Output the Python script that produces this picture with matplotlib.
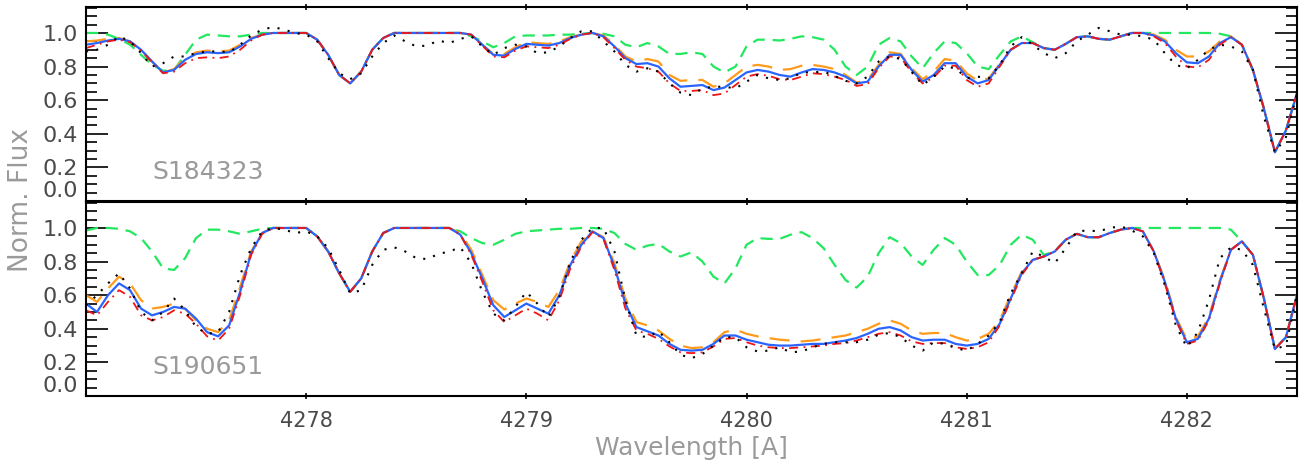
import numpy as np
import matplotlib
matplotlib.use('Agg')
import matplotlib.pyplot as plt

# wavelength grid, 0.05 A step
wave = np.linspace(4277.0, 4282.5, 111)

# ---- S184323 (top panel) ----
top_obs = [0.89, 0.90, 0.93, 0.98, 0.95, 0.88, 0.80, 0.82, 0.86, 0.86,
           0.88, 0.89, 0.89, 0.885, 0.93, 0.985, 1.02, 1.035, 1.02, 1.0,
           0.99, 0.95, 0.85, 0.76, 0.725, 0.76, 0.86, 0.94, 0.985, 0.95,
           0.92, 0.925, 0.955, 0.94, 0.965, 0.98, 0.92, 0.87, 0.91, 0.93,
           0.92, 0.88, 0.885, 0.92, 0.97, 1.01, 1.01, 0.95, 0.89, 0.81,
           0.77, 0.79, 0.77, 0.70, 0.645, 0.63, 0.67, 0.68, 0.68, 0.67,
           0.71, 0.75, 0.73, 0.72, 0.73, 0.765, 0.765, 0.77, 0.745, 0.715,
           0.70, 0.74, 0.83, 0.86, 0.845, 0.77, 0.69, 0.74, 0.80, 0.79,
           0.73, 0.74, 0.73, 0.81, 0.92, 0.975, 0.93, 0.88, 0.85, 0.88,
           0.95, 0.99, 1.03, 1.01, 0.99, 0.99, 0.98, 0.96, 0.88, 0.81,
           0.79, 0.84, 0.90, 0.93, 0.92, 0.89, 0.78, 0.50, 0.29, 0.38, 0.64]
top_best = [0.93, 0.94, 0.955, 0.965, 0.95, 0.90, 0.83, 0.765, 0.78, 0.84,
            0.875, 0.885, 0.88, 0.885, 0.92, 0.965, 0.99, 1.0, 1.0, 1.0,
            1.0, 0.96, 0.87, 0.75, 0.70, 0.77, 0.90, 0.97, 1.0, 1.0,
            1.0, 1.0, 1.0, 1.0, 1.0, 0.99, 0.93, 0.87, 0.865, 0.905,
            0.935, 0.93, 0.925, 0.94, 0.97, 0.99, 1.0, 0.98, 0.92, 0.85,
            0.815, 0.82, 0.80, 0.73, 0.68, 0.685, 0.69, 0.66, 0.675, 0.72,
            0.765, 0.78, 0.77, 0.75, 0.74, 0.765, 0.785, 0.78, 0.765, 0.74,
            0.70, 0.71, 0.80, 0.87, 0.87, 0.78, 0.71, 0.75, 0.82, 0.82,
            0.74, 0.70, 0.72, 0.81, 0.90, 0.94, 0.94, 0.91, 0.90, 0.935,
            0.975, 0.98, 0.965, 0.96, 0.98, 1.0, 1.0, 0.985, 0.95, 0.88,
            0.825, 0.82, 0.86, 0.94, 0.975, 0.93, 0.78, 0.55, 0.29, 0.42, 0.64]
top_low = [0.95, 0.955, 0.965, 0.97, 0.95, 0.90, 0.83, 0.765, 0.785, 0.85,
           0.885, 0.895, 0.89, 0.895, 0.93, 0.97, 0.99, 1.0, 1.0, 1.0,
           1.0, 0.96, 0.87, 0.75, 0.70, 0.77, 0.90, 0.97, 1.0, 1.0,
           1.0, 1.0, 1.0, 1.0, 1.0, 0.99, 0.93, 0.875, 0.875, 0.915,
           0.945, 0.94, 0.935, 0.95, 0.975, 0.99, 1.0, 0.985, 0.93, 0.86,
           0.83, 0.845, 0.83, 0.75, 0.715, 0.72, 0.72, 0.68, 0.70, 0.75,
           0.80, 0.81, 0.80, 0.78, 0.785, 0.805, 0.81, 0.80, 0.785, 0.75,
           0.705, 0.72, 0.81, 0.885, 0.875, 0.79, 0.725, 0.77, 0.845, 0.835,
           0.76, 0.715, 0.73, 0.815, 0.90, 0.94, 0.94, 0.91, 0.90, 0.935,
           0.975, 0.98, 0.965, 0.96, 0.98, 1.0, 1.0, 0.99, 0.96, 0.90,
           0.86, 0.86, 0.89, 0.95, 0.98, 0.93, 0.78, 0.55, 0.29, 0.42, 0.64]
top_high = [0.91, 0.93, 0.95, 0.96, 0.945, 0.895, 0.825, 0.76, 0.77, 0.82,
            0.85, 0.855, 0.85, 0.86, 0.90, 0.955, 0.99, 1.0, 1.0, 1.0,
            1.0, 0.96, 0.87, 0.75, 0.70, 0.77, 0.90, 0.97, 1.0, 1.0,
            1.0, 1.0, 1.0, 1.0, 1.0, 0.99, 0.925, 0.86, 0.855, 0.895,
            0.92, 0.915, 0.91, 0.93, 0.965, 0.99, 1.0, 0.975, 0.91, 0.84,
            0.80, 0.79, 0.77, 0.70, 0.655, 0.655, 0.66, 0.63, 0.64, 0.69,
            0.74, 0.755, 0.745, 0.725, 0.72, 0.74, 0.76, 0.755, 0.74, 0.72,
            0.685, 0.695, 0.79, 0.86, 0.855, 0.765, 0.70, 0.735, 0.805, 0.805,
            0.72, 0.68, 0.70, 0.80, 0.90, 0.94, 0.94, 0.91, 0.90, 0.935,
            0.975, 0.98, 0.965, 0.96, 0.98, 1.0, 1.0, 0.98, 0.94, 0.86,
            0.80, 0.795, 0.84, 0.93, 0.975, 0.93, 0.78, 0.55, 0.29, 0.42, 0.64]
top_zero = [1.0, 1.0, 0.99, 0.965, 0.93, 0.87, 0.81, 0.775, 0.78, 0.87,
            0.96, 0.99, 0.985, 0.98, 0.98, 0.99, 1.0, 1.0, 1.0, 1.0,
            1.0, 0.96, 0.87, 0.75, 0.70, 0.77, 0.90, 0.97, 1.0, 1.0,
            1.0, 1.0, 1.0, 1.0, 1.0, 0.98, 0.95, 0.915, 0.94, 0.98,
            0.985, 0.985, 0.985, 0.99, 0.99, 0.995, 1.0, 0.995, 0.98, 0.93,
            0.915, 0.94, 0.92, 0.875, 0.875, 0.885, 0.875, 0.80, 0.765, 0.80,
            0.92, 0.96, 0.96, 0.955, 0.965, 0.98, 0.975, 0.96, 0.90, 0.80,
            0.75, 0.80, 0.93, 0.97, 0.95, 0.86, 0.79, 0.88, 0.95, 0.94,
            0.88, 0.80, 0.785, 0.87, 0.95, 0.98, 0.945, 0.91, 0.90, 0.935,
            0.975, 0.98, 0.965, 0.96, 0.98, 1.0, 1.0, 1.0, 1.0, 1.0,
            1.0, 1.0, 1.0, 0.995, 0.98, 0.93, 0.78, 0.55, 0.29, 0.42, 0.64]

# ---- S190651 (bottom panel) ----
bot_obs = [0.54, 0.60, 0.67, 0.73, 0.64, 0.50, 0.45, 0.50, 0.58, 0.51,
           0.41, 0.37, 0.38, 0.50, 0.72, 0.88, 0.98, 1.0, 0.99, 0.97,
           0.98, 0.95, 0.88, 0.75, 0.61, 0.63, 0.78, 0.87, 0.885, 0.86,
           0.82, 0.815, 0.845, 0.86, 0.885, 0.79, 0.62, 0.49, 0.45, 0.53,
           0.62, 0.55, 0.47, 0.59, 0.80, 0.93, 1.0, 1.0, 0.86, 0.57,
           0.36, 0.35, 0.385, 0.32, 0.245, 0.225, 0.25, 0.30, 0.35, 0.35,
           0.29, 0.265, 0.27, 0.29, 0.26, 0.265, 0.29, 0.31, 0.32, 0.32,
           0.32, 0.335, 0.365, 0.375, 0.35, 0.30, 0.27, 0.32, 0.31, 0.285,
           0.27, 0.31, 0.36, 0.44, 0.61, 0.73, 0.86, 0.83, 0.79, 0.88,
           0.98, 0.985, 0.98, 1.0, 1.01, 0.985, 0.95, 0.85, 0.66, 0.42,
           0.29, 0.38, 0.57, 0.82, 0.885, 0.87, 0.78, 0.52, 0.28, 0.30, 0.60]
bot_best = [0.55, 0.50, 0.60, 0.67, 0.63, 0.52, 0.48, 0.50, 0.53, 0.52,
            0.46, 0.38, 0.355, 0.42, 0.62, 0.85, 0.97, 1.0, 1.0, 1.0,
            1.0, 0.95, 0.86, 0.73, 0.62, 0.70, 0.86, 0.97, 1.0, 1.0,
            1.0, 1.0, 1.0, 1.0, 0.96, 0.85, 0.70, 0.54, 0.47, 0.51,
            0.55, 0.52, 0.49, 0.60, 0.78, 0.90, 0.98, 0.94, 0.77, 0.55,
            0.41, 0.385, 0.36, 0.31, 0.275, 0.27, 0.275, 0.31, 0.36, 0.36,
            0.335, 0.32, 0.305, 0.30, 0.30, 0.305, 0.31, 0.31, 0.32, 0.33,
            0.345, 0.37, 0.40, 0.41, 0.39, 0.35, 0.33, 0.335, 0.335, 0.31,
            0.30, 0.31, 0.34, 0.43, 0.58, 0.73, 0.81, 0.83, 0.86, 0.93,
            0.965, 0.945, 0.945, 0.97, 0.99, 1.0, 0.98, 0.86, 0.68, 0.46,
            0.32, 0.34, 0.46, 0.68, 0.87, 0.92, 0.84, 0.58, 0.28, 0.35, 0.60]
bot_low = [0.60, 0.56, 0.64, 0.71, 0.67, 0.57, 0.52, 0.53, 0.55, 0.52,
           0.45, 0.40, 0.38, 0.45, 0.65, 0.86, 0.97, 1.0, 1.0, 1.0,
           1.0, 0.95, 0.86, 0.73, 0.62, 0.70, 0.86, 0.97, 1.0, 1.0,
           1.0, 1.0, 1.0, 1.0, 0.97, 0.87, 0.72, 0.57, 0.515, 0.55,
           0.58, 0.56, 0.53, 0.63, 0.80, 0.92, 0.98, 0.945, 0.79, 0.58,
           0.44, 0.42, 0.39, 0.34, 0.30, 0.285, 0.29, 0.32, 0.38, 0.395,
           0.37, 0.355, 0.345, 0.335, 0.33, 0.325, 0.33, 0.34, 0.35, 0.36,
           0.38, 0.40, 0.43, 0.45, 0.43, 0.39, 0.37, 0.375, 0.375, 0.35,
           0.33, 0.34, 0.37, 0.45, 0.60, 0.74, 0.81, 0.83, 0.86, 0.93,
           0.965, 0.945, 0.945, 0.97, 0.99, 1.0, 0.98, 0.86, 0.69, 0.47,
           0.335, 0.355, 0.47, 0.69, 0.87, 0.92, 0.84, 0.58, 0.28, 0.35, 0.60]
bot_high = [0.51, 0.48, 0.56, 0.63, 0.59, 0.48, 0.45, 0.47, 0.51, 0.49,
            0.43, 0.355, 0.33, 0.40, 0.60, 0.84, 0.965, 1.0, 1.0, 1.0,
            1.0, 0.95, 0.86, 0.73, 0.62, 0.70, 0.86, 0.97, 1.0, 1.0,
            1.0, 1.0, 1.0, 1.0, 0.96, 0.84, 0.68, 0.51, 0.44, 0.48,
            0.52, 0.49, 0.45, 0.57, 0.76, 0.89, 0.975, 0.935, 0.75, 0.52,
            0.39, 0.37, 0.34, 0.295, 0.26, 0.255, 0.26, 0.295, 0.34, 0.345,
            0.32, 0.30, 0.29, 0.285, 0.285, 0.29, 0.295, 0.30, 0.31, 0.315,
            0.33, 0.35, 0.37, 0.38, 0.36, 0.325, 0.31, 0.315, 0.315, 0.29,
            0.28, 0.29, 0.32, 0.42, 0.57, 0.72, 0.81, 0.83, 0.86, 0.93,
            0.965, 0.945, 0.945, 0.97, 0.99, 1.0, 0.98, 0.86, 0.67, 0.45,
            0.31, 0.33, 0.45, 0.67, 0.87, 0.92, 0.84, 0.58, 0.28, 0.35, 0.60]
bot_zero = [0.985, 1.0, 1.0, 0.995, 0.98, 0.94, 0.86, 0.76, 0.75, 0.82,
            0.94, 0.99, 0.99, 0.98, 0.965, 0.98, 0.995, 1.0, 1.0, 1.0,
            1.0, 0.95, 0.86, 0.73, 0.62, 0.70, 0.86, 0.97, 1.0, 1.0,
            1.0, 1.0, 1.0, 1.0, 0.98, 0.94, 0.91, 0.90, 0.93, 0.965,
            0.98, 0.985, 0.99, 0.995, 0.995, 1.0, 1.0, 0.995, 0.97, 0.905,
            0.87, 0.895, 0.905, 0.86, 0.83, 0.855, 0.80, 0.71, 0.67, 0.76,
            0.90, 0.94, 0.935, 0.935, 0.96, 0.975, 0.94, 0.88, 0.78, 0.69,
            0.645, 0.71, 0.85, 0.945, 0.91, 0.83, 0.78, 0.87, 0.94, 0.90,
            0.80, 0.72, 0.72, 0.78, 0.90, 0.96, 0.93, 0.84, 0.86, 0.93,
            0.965, 0.945, 0.945, 0.97, 0.99, 1.0, 1.0, 1.0, 1.0, 1.0,
            1.0, 1.0, 1.0, 1.0, 0.99, 0.92, 0.84, 0.58, 0.28, 0.35, 0.60]

star_names = ['S184323', 'S190651']
xticks = [4278, 4279, 4280, 4281, 4282]

LABEL_GREY = '#9a9a9a'
TICK_GREY = '#4a4a4a'

fig = plt.figure(figsize=(13.07, 4.61), dpi=100)
ax_top = fig.add_axes([0.0658, 0.564, 0.9265, 0.421])
ax_bot = fig.add_axes([0.0658, 0.141, 0.9265, 0.421])

panels = [(ax_top, top_obs, top_best, top_low, top_high, top_zero),
          (ax_bot, bot_obs, bot_best, bot_low, bot_high, bot_zero)]

for k, (ax, obs, best, low, high, zero) in enumerate(panels):
    ax.plot(wave, zero, color='#22e860', lw=1.6, ls=(0, (5.5, 3.5)))
    ax.plot(wave, low, color='#ff9a1a', lw=1.6, ls=(0, (9, 5)))
    ax.plot(wave, best, color='#2a64ff', lw=1.6, ls='-')
    ax.plot(wave, high, color='#ee1515', lw=1.3, ls=(0, (5, 3, 1, 3)))
    ax.plot(wave, obs, color='black', lw=1.5, ls=(0, (1, 4)))

    ax.set_xlim(4277.0, 4282.5)
    ax.set_ylim(0.0, 1.155)
    ax.set_yticks([0.0, 0.2, 0.4, 0.6, 0.8, 1.0])
    ax.set_yticks(np.arange(0.05, 1.155, 0.05), minor=True)
    ax.set_xticks(xticks)
    ax.tick_params(axis='y', which='major', direction='in', length=16, width=1.2,
                   left=True, right=True, labelsize=16, labelcolor=TICK_GREY, pad=6)
    ax.tick_params(axis='y', which='minor', direction='in', length=8, width=1.2,
                   left=True, right=True)
    ax.tick_params(axis='x', which='major', direction='inout', length=5, width=1.2,
                   top=True, bottom=True, labelsize=15, labelcolor=TICK_GREY, pad=8)
    ax.set_yticklabels(['0.0', '0.2', '0.4', '0.6', '0.8', '1.0'])
    ax.get_yticklabels()[0].set_va('bottom')
    for sp in ax.spines.values():
        sp.set_linewidth(1.5)
    ax.text(4277.3, 0.17, star_names[k], fontsize=18, color=LABEL_GREY,
            va='center', ha='left')

ax_top.tick_params(axis='x', labelbottom=False)

fig.text(0.016, 1 - 200 / 461, 'Norm. Flux', rotation=90, fontsize=19,
         color=LABEL_GREY, va='center', ha='center')
fig.text(691 / 1307, 1 - 448 / 461, 'Wavelength [A]', fontsize=18,
         color=LABEL_GREY, va='center', ha='center')

fig.savefig('out.png', dpi=100)
